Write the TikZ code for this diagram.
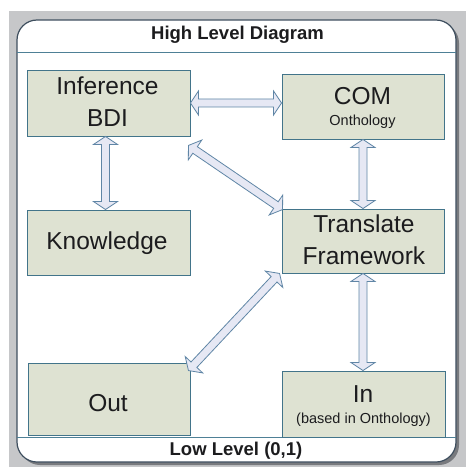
\documentclass[tikz,border=0pt]{standalone}
\usepackage{fontspec}
\setmainfont{Liberation Sans}
\usetikzlibrary{calc}

\definecolor{panelgray}{RGB}{198,199,201}
\definecolor{shadowgray}{RGB}{120,122,126}
\definecolor{framecol}{RGB}{62,78,94}
\definecolor{rulecol}{RGB}{78,128,150}
\definecolor{boxfill}{RGB}{222,226,210}
\definecolor{boxline}{RGB}{66,116,138}
\definecolor{arrowfill}{RGB}{230,232,244}
\definecolor{arrowline}{RGB}{96,134,166}
\definecolor{inkcol}{RGB}{28,28,30}

% block double arrow between two points: head length, head half width, shaft half width
\def\ah{8pt}
\def\aw{12pt}
\def\as{4pt}
\newcommand\dblarrow[2]{%
  \path[blockarrow] let \p1=(#1), \p2=(#2), \n1={atan2(\y2-\y1,\x2-\x1)} in
    (\p1)
    -- ($(\p1)+(\n1:\ah)+({\n1+90}:\aw)$)
    -- ($(\p1)+(\n1:\ah)+({\n1+90}:\as)$)
    -- ($(\p2)+({\n1+180}:\ah)+({\n1+90}:\as)$)
    -- ($(\p2)+({\n1+180}:\ah)+({\n1+90}:\aw)$)
    -- (\p2)
    -- ($(\p2)+({\n1+180}:\ah)+({\n1-90}:\aw)$)
    -- ($(\p2)+({\n1+180}:\ah)+({\n1-90}:\as)$)
    -- ($(\p1)+(\n1:\ah)+({\n1-90}:\as)$)
    -- ($(\p1)+(\n1:\ah)+({\n1-90}:\aw)$)
    -- cycle;}

\begin{document}
\begin{tikzpicture}[x=1pt,y=-1pt,
  blockarrow/.style={draw=arrowline, fill=arrowfill, line width=0.8pt, line join=miter},
  box/.style={draw=boxline, fill=boxfill, line width=0.9pt, rectangle, inner sep=0pt},
  big/.style={font=\fontsize{24.5}{30}\selectfont, text=inkcol, inner sep=0pt, anchor=base},
  small/.style={font=\fontsize{14.5}{17}\selectfont, text=inkcol, inner sep=0pt, anchor=base},
  head/.style={font=\fontsize{18.5}{22}\selectfont\bfseries, text=inkcol, inner sep=0pt, anchor=base}]
\useasboundingbox (0,0) rectangle (466,468);

% grey panel, shadow and rounded white frame
\fill[panelgray] (9,11) rectangle (466,467);
\fill[shadowgray, rounded corners=20pt] (20,23) rectangle (459,465);
\draw[framecol, fill=white, line width=1.2pt, rounded corners=20pt] (17,20) rectangle (456,462);
\draw[rulecol, line width=0.7pt] (17,52) -- (456,52);
\draw[rulecol, line width=0.7pt] (17,437) -- (456,437);

\node[head] (title) at (237.5,40) {High Level Diagram};
\node[head] (footer) at (236,455) {Low Level (0,1)};

% boxes
\node[box, minimum width=163pt, minimum height=66pt] (inf)   at (108.5,103) {};
\node[box, minimum width=162pt, minimum height=65pt] (com)   at (363,106.5) {};
\node[box, minimum width=163pt, minimum height=65pt] (know)  at (108.5,242.5) {};
\node[box, minimum width=162pt, minimum height=64pt] (trans) at (363,241) {};
\node[box, minimum width=162pt, minimum height=72pt] (out)   at (109,399) {};
\node[box, minimum width=163pt, minimum height=66pt] (in)    at (363.5,404) {};

% box texts
\node[big] (infA) at (107.5,95) {Inference};
\node[big] (infB) at (107.5,127) {BDI};
\node[big] (comA) at (362.5,105) {COM};
\node[small] (comB) at (362.5,125) {Onthology};
\node[big] (knowA) at (107,249) {Knowledge};
\node[big] (transA) at (364,232) {Translate};
\node[big] (transB) at (364,264) {Framework};
\node[big] (outA) at (108,411) {Out};
\node[big] (inA) at (363,402) {In};
\node[small] (inB) at (363.5,423) {(based in Onthology)};

% connectors
\dblarrow{inf.east}{inf.east -| com.west}
\dblarrow{$(inf.south)+(-3,0)$}{$(know.north)+(-3,0)$}
\dblarrow{com.south}{trans.north}
\dblarrow{trans.south}{trans.south |- in.north}
\dblarrow{$(inf.south east)+(-2,9)$}{$(trans.north west)+(1,1)$}
\dblarrow{$(trans.south west)+(-2,0)$}{$(out.north east)+(-2,8)$}
\end{tikzpicture}
\end{document}
